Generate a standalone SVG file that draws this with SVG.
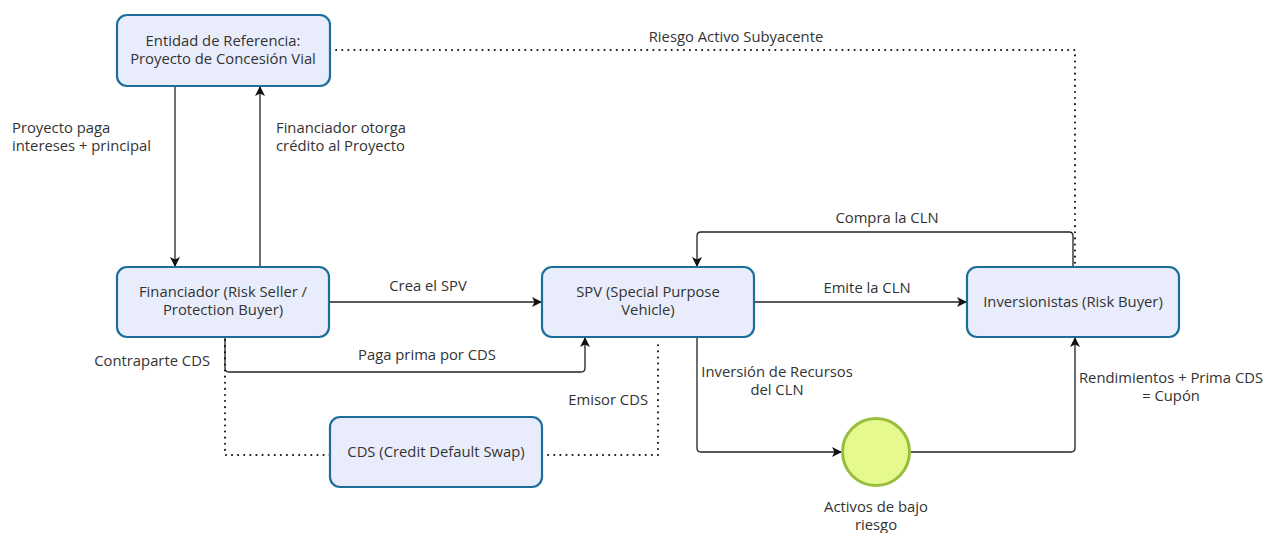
<svg xmlns="http://www.w3.org/2000/svg" width="1267" height="533" viewBox="0 0 1267 533">
<style>
.box{fill:#e9edfb;stroke:#1b6e9a;stroke-width:2.2}
.t{font-family:"Open Sans","Liberation Sans",sans-serif;font-size:14.8px;fill:#333}
.c{text-anchor:middle}
.r{text-anchor:end}
.e{fill:none;stroke:#222;stroke-width:1.3}
.d{fill:none;stroke:#111;stroke-width:2;stroke-dasharray:0.1 6;stroke-linecap:round}
</style>
<defs>
<marker id="a" viewBox="0 0 10 10" refX="9" refY="5" markerWidth="10" markerHeight="10" markerUnits="userSpaceOnUse" orient="auto">
<path d="M0,0 L10,5 L0,10 L2.5,5 Z" fill="#111"/>
</marker>
</defs>
<rect width="1267" height="533" fill="#fff"/>
<g id="connectors">
<path class="e" d="M175,86 V266" marker-end="url(#a)"/>
<path class="e" d="M260,267 V87" marker-end="url(#a)"/>
<path class="e" d="M329,302 H541" marker-end="url(#a)"/>
<path class="e" d="M225,337 V368 Q225,372 229,372 H581 Q585,372 585,368 V338" marker-end="url(#a)"/>
<path class="e" d="M754,302 H966" marker-end="url(#a)"/>
<path class="e" d="M1073,267 V236 Q1073,232 1069,232 H701 Q697,232 697,236 V266" marker-end="url(#a)"/>
<path class="e" d="M697,337 V448 Q697,452 701,452 H841" marker-end="url(#a)"/>
<path class="e" d="M910,452 H1071 Q1075,452 1075,448 V338" marker-end="url(#a)"/>
<path class="d" d="M330,50 H1075 V267"/>
<path class="d" d="M225,340 V455 H330"/>
<path class="d" d="M542,455 H658 V340"/>
<text class="t c" x="736" y="42">Riesgo Activo Subyacente</text>
<text class="t" x="12" y="133">Proyecto paga</text>
<text class="t" x="12" y="151">intereses + principal</text>
<text class="t" x="276" y="133">Financiador otorga</text>
<text class="t" x="276" y="151">crédito al Proyecto</text>
<text class="t c" x="428" y="291">Crea el SPV</text>
<text class="t c" x="427" y="360">Paga prima por CDS</text>
<text class="t r" x="210" y="366">Contraparte CDS</text>
<text class="t r" x="648" y="405">Emisor CDS</text>
<text class="t c" x="867" y="293">Emite la CLN</text>
<text class="t c" x="887" y="223">Compra la CLN</text>
<text class="t c" x="777" y="377">Inversión de Recursos</text>
<text class="t c" x="777" y="395">del CLN</text>
<text class="t c" x="1171" y="383">Rendimientos + Prima CDS</text>
<text class="t c" x="1171" y="401">= Cupón</text>
</g>
<g id="entidad">
<rect class="box" x="117" y="15" width="213" height="71" rx="10"/>
<text class="t c" x="223" y="46">Entidad de Referencia:</text>
<text class="t c" x="223" y="64">Proyecto de Concesión Vial</text>
</g>
<g id="financiador">
<rect class="box" x="117" y="267" width="212" height="70" rx="10"/>
<text class="t c" x="223" y="297">Financiador (Risk Seller /</text>
<text class="t c" x="223" y="315">Protection Buyer)</text>
</g>
<g id="spv">
<rect class="box" x="542" y="267" width="212" height="70" rx="10"/>
<text class="t c" x="648" y="297">SPV (Special Purpose</text>
<text class="t c" x="648" y="315">Vehicle)</text>
</g>
<g id="inversionistas">
<rect class="box" x="967" y="267" width="212" height="70" rx="10"/>
<text class="t c" x="1073" y="307">Inversionistas (Risk Buyer)</text>
</g>
<g id="cds">
<rect class="box" x="330" y="417" width="212" height="70" rx="10"/>
<text class="t c" x="436" y="457">CDS (Credit Default Swap)</text>
</g>
<g id="activos">
<circle cx="876" cy="452" r="33.5" fill="#e5f98f" stroke="#98bd3a" stroke-width="3"/>
<text class="t c" x="876" y="512">Activos de bajo</text>
<text class="t c" x="876" y="530">riesgo</text>
</g>
</svg>
